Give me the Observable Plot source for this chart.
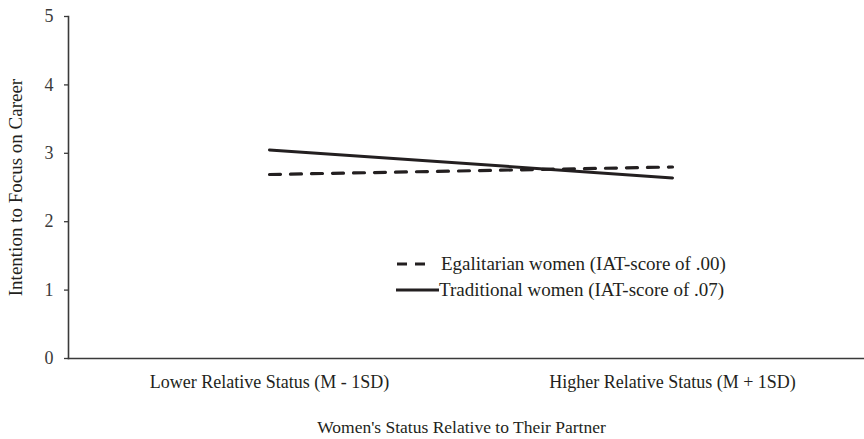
<!DOCTYPE html>
<html>
<head>
<meta charset="utf-8">
<script src="https://cdn.jsdelivr.net/npm/d3@7"></script>
<script src="https://cdn.jsdelivr.net/npm/@observablehq/plot@0.6"></script>
<style>
  html, body { margin: 0; padding: 0; background: #fff; }
  #wrap { position: relative; width: 864px; height: 439px; font-family: "Liberation Serif", "Times New Roman", serif; }
  #legend { position: absolute; left: 396px; top: 251px; font-size: 19px; color: #231f20; line-height: 26px; }
  #legend .row { display: flex; align-items: center; white-space: nowrap; }
  #legend svg { display: block; }
</style>
</head>
<body>
<div id="wrap"></div>
<script>
const categories = ["Lower Relative Status (M - 1SD)", "Higher Relative Status (M + 1SD)"];
const egalitarian = [2.69, 2.80];
const traditional = [3.05, 2.64];
const seriesNames = ["Egalitarian women (IAT-score of .00)", "Traditional women (IAT-score of .07)"];
const yTicks = [0, 1, 2, 3, 4, 5];
const xTitle = "Women's Status Relative to Their Partner";
const yTitle = "Intention to Focus on Career";

const egalRows = categories.map((c, i) => ({cat: c, value: egalitarian[i]}));
const tradRows = categories.map((c, i) => ({cat: c, value: traditional[i]}));

const ink = "#231f20";
const axisInk = "#3a3a3a";

const chart = Plot.plot({
  width: 864,
  height: 439,
  marginLeft: 68,
  marginRight: 0,
  marginTop: 16,
  marginBottom: 81,
  style: {fontFamily: "'Liberation Serif', 'Times New Roman', serif", fontSize: "16px", color: ink, background: "#fff"},
  x: {type: "point", domain: categories, range: [269, 672], padding: 0},
  y: {domain: [0, 5]},
  marks: [
    Plot.frame({anchor: "left", stroke: axisInk, strokeWidth: 1.6}),
    Plot.frame({anchor: "bottom", stroke: axisInk, strokeWidth: 1.6}),
    Plot.axisY(yTicks, {tickSize: 4, tickPadding: 11, stroke: axisInk, strokeWidth: 1.3, fill: axisInk, label: null, fontSize: 18, tickFormat: "d"}),
    Plot.axisX({tickSize: 0, tickPadding: 17, fill: ink, label: null, fontSize: 18}),
    Plot.text([yTitle], {frameAnchor: "left", textAnchor: "middle", dx: -53, rotate: -90, fontSize: 19, fill: ink}),
    Plot.text([xTitle], {frameAnchor: "bottom", dy: 74, dx: -5, fontSize: 17.5, fill: ink}),
    Plot.line(tradRows, {x: "cat", y: "value", stroke: ink, strokeWidth: 3}),
    Plot.line(egalRows, {x: "cat", y: "value", stroke: ink, strokeWidth: 3.2, strokeDasharray: "11,10"})
  ]
});

const wrap = document.getElementById("wrap");
wrap.appendChild(chart);

const legend = document.createElement("div");
legend.id = "legend";
legend.innerHTML = `
  <div class="row"><svg width="45" height="10"><line x1="1" y1="5" x2="37" y2="5" stroke="${ink}" stroke-width="3.2" stroke-dasharray="10,8"/></svg><span>${seriesNames[0]}</span></div>
  <div class="row"><svg width="43" height="10"><line x1="0" y1="5" x2="43" y2="5" stroke="${ink}" stroke-width="3"/></svg><span>${seriesNames[1]}</span></div>
`;
wrap.appendChild(legend);
</script>
</body>
</html>
